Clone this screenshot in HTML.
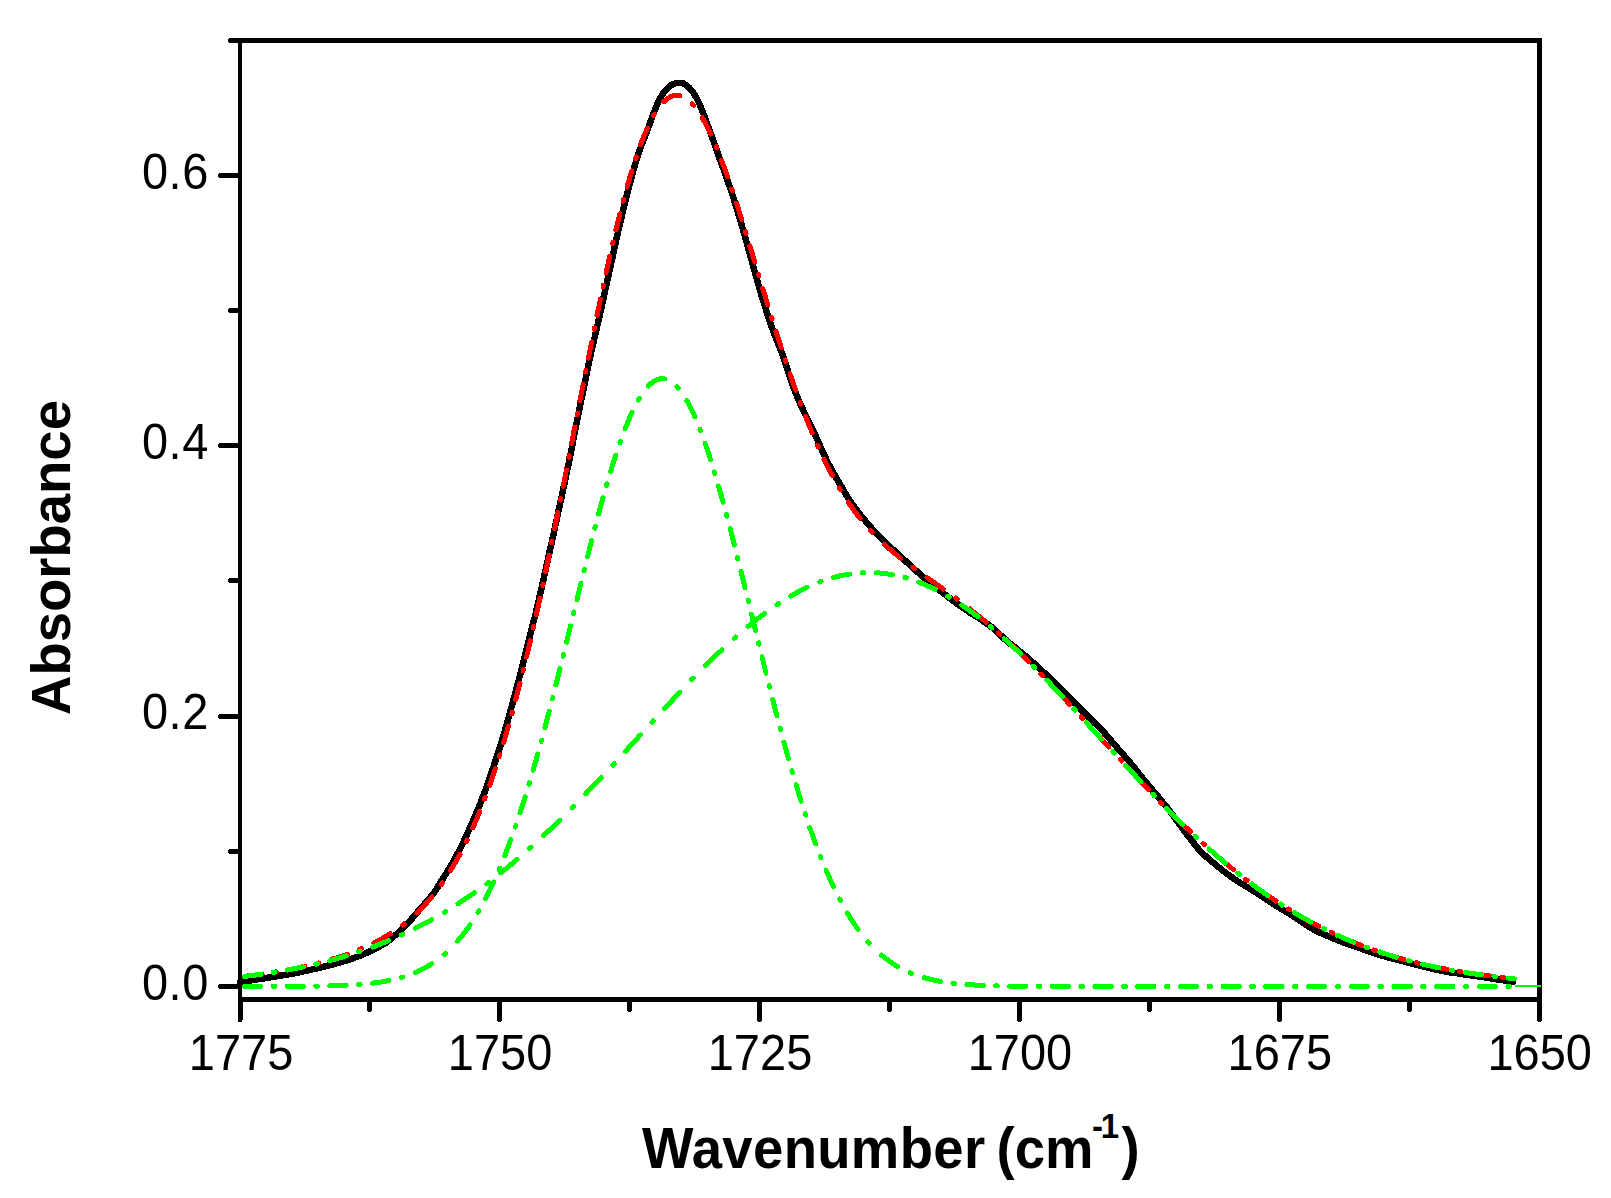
<!DOCTYPE html>
<html><head><meta charset="utf-8"><title>Absorbance vs Wavenumber</title>
<style>
html,body{margin:0;padding:0;background:#fff;}
svg{display:block;}
text{font-family:"Liberation Sans",sans-serif;fill:#000;}
.tl{font-size:47px;}
.ax{font-size:54.5px;font-weight:bold;}
</style></head><body>
<svg width="1611" height="1198" viewBox="0 0 1611 1198">
<rect width="1611" height="1198" fill="#fff"/>
<g shape-rendering="crispEdges" fill="none" stroke-linecap="round" stroke-linejoin="round">
<path d="M240.0 981.9 L241.5 981.7 L243.0 981.5 L244.5 981.2 L246.0 981.0 L247.5 980.8 L249.0 980.6 L250.5 980.4 L252.0 980.2 L253.5 979.9 L255.0 979.7 L256.5 979.5 L258.0 979.2 L259.5 979.0 L261.0 978.8 L262.5 978.5 L264.0 978.3 L265.5 978.0 L267.0 977.8 L268.5 977.6 L270.0 977.3 L271.5 977.1 L273.0 976.8 L274.5 976.6 L276.0 976.3 L277.5 976.1 L279.0 975.9 L280.5 975.6 L282.0 975.4 L283.5 975.1 L285.0 974.9 L286.5 974.6 L288.0 974.4 L289.5 974.1 L291.0 973.8 L292.5 973.6 L294.0 973.3 L295.5 973.0 L297.0 972.7 L298.5 972.4 L300.0 972.1 L301.5 971.8 L303.0 971.5 L304.5 971.2 L306.0 970.9 L307.5 970.5 L309.0 970.2 L310.5 969.9 L312.0 969.5 L313.5 969.2 L315.0 968.8 L316.5 968.5 L318.0 968.1 L319.5 967.7 L321.0 967.4 L322.5 967.0 L324.0 966.6 L325.5 966.2 L327.0 965.8 L328.5 965.5 L330.0 965.1 L331.5 964.7 L333.0 964.3 L334.5 963.9 L336.0 963.5 L337.5 963.1 L339.0 962.7 L340.5 962.3 L342.0 961.8 L343.5 961.4 L345.0 960.9 L346.5 960.5 L348.0 960.0 L349.5 959.5 L351.0 959.0 L352.5 958.5 L354.0 958.0 L355.5 957.4 L357.0 956.9 L358.5 956.3 L360.0 955.7 L361.5 955.1 L363.0 954.5 L364.5 953.8 L366.0 953.2 L367.5 952.5 L369.0 951.8 L370.5 951.1 L372.0 950.4 L373.5 949.6 L375.0 948.9 L376.5 948.1 L378.0 947.3 L379.5 946.5 L381.0 945.6 L382.5 944.8 L384.0 943.9 L385.5 943.0 L387.0 942.0 L388.5 940.9 L390.0 939.7 L391.5 938.5 L393.0 937.2 L394.5 935.9 L396.0 934.6 L397.5 933.3 L399.0 931.9 L400.5 930.5 L402.0 929.1 L403.5 927.6 L405.0 926.1 L406.5 924.5 L408.0 922.9 L409.5 921.4 L411.0 919.7 L412.5 918.0 L414.0 916.3 L415.5 914.5 L417.0 912.7 L418.5 910.9 L420.0 909.2 L421.5 907.4 L423.0 905.7 L424.5 904.1 L426.0 902.4 L427.5 900.6 L429.0 898.9 L430.5 897.1 L432.0 895.2 L433.5 893.3 L435.0 891.3 L436.5 889.0 L438.0 886.6 L439.5 884.0 L441.0 881.6 L442.5 879.3 L444.0 876.9 L445.5 874.6 L447.0 872.2 L448.5 869.7 L450.0 867.2 L451.5 864.6 L453.0 862.0 L454.5 859.3 L456.0 856.6 L457.5 853.8 L459.0 850.9 L460.5 848.0 L462.0 844.9 L463.5 841.8 L465.0 838.6 L466.5 835.3 L468.0 832.0 L469.5 828.7 L471.0 825.3 L472.5 821.9 L474.0 818.5 L475.5 815.0 L477.0 811.4 L478.5 807.8 L480.0 804.1 L481.5 800.3 L483.0 796.4 L484.5 792.5 L486.0 788.5 L487.5 784.4 L489.0 780.0 L490.5 775.6 L492.0 771.2 L493.5 766.8 L495.0 762.3 L496.5 757.8 L498.0 753.2 L499.5 748.5 L501.0 743.7 L502.5 738.7 L504.0 733.7 L505.5 728.5 L507.0 723.3 L508.5 718.0 L510.0 712.6 L511.5 707.1 L513.0 701.7 L514.5 696.1 L516.0 690.5 L517.5 684.8 L519.0 679.1 L520.5 673.2 L522.0 667.3 L523.5 661.3 L525.0 655.3 L526.5 649.2 L528.0 643.2 L529.5 637.4 L531.0 631.6 L532.5 625.9 L534.0 620.0 L535.5 614.0 L537.0 607.8 L538.5 601.4 L540.0 594.8 L541.5 588.2 L543.0 581.5 L544.5 574.7 L546.0 567.9 L547.5 561.1 L549.0 554.3 L550.5 547.6 L552.0 540.9 L553.5 534.1 L555.0 527.2 L556.5 520.3 L558.0 513.3 L559.5 506.4 L561.0 499.4 L562.5 492.5 L564.0 485.6 L565.5 478.5 L567.0 471.4 L568.5 464.2 L570.0 456.9 L571.5 449.3 L573.0 441.5 L574.5 433.7 L576.0 425.8 L577.5 418.2 L579.0 410.9 L580.5 403.7 L582.0 396.5 L583.5 389.3 L585.0 382.0 L586.5 374.6 L588.0 367.2 L589.5 360.0 L591.0 353.2 L592.5 346.7 L594.0 340.2 L595.5 333.8 L597.0 327.3 L598.5 320.6 L600.0 313.9 L601.5 307.2 L603.0 300.4 L604.5 293.4 L606.0 286.5 L607.5 279.7 L609.0 272.9 L610.5 266.1 L612.0 259.4 L613.5 252.5 L615.0 245.6 L616.5 238.8 L618.0 232.1 L619.5 225.7 L621.0 219.3 L622.5 213.0 L624.0 206.9 L625.5 200.9 L627.0 194.9 L628.5 189.0 L630.0 183.1 L631.5 177.4 L633.0 171.8 L634.5 166.4 L636.0 161.4 L637.5 156.6 L639.0 152.2 L640.5 147.9 L642.0 143.9 L643.5 140.0 L645.0 136.3 L646.5 132.5 L648.0 128.5 L649.5 124.3 L651.0 120.2 L652.5 116.2 L654.0 112.4 L655.5 108.6 L657.0 104.9 L658.5 101.4 L660.0 98.4 L661.5 95.9 L663.0 93.6 L664.5 91.5 L666.0 89.7 L667.5 88.2 L669.0 86.9 L670.5 85.7 L672.0 84.8 L673.5 84.1 L675.0 83.5 L676.5 83.1 L678.0 82.9 L679.5 82.8 L681.0 82.9 L682.5 83.2 L684.0 83.8 L685.5 84.8 L687.0 85.9 L688.5 87.1 L690.0 88.6 L691.5 90.3 L693.0 92.3 L694.5 94.6 L696.0 97.1 L697.5 99.8 L699.0 102.9 L700.5 106.4 L702.0 110.0 L703.5 113.8 L705.0 117.8 L706.5 122.0 L708.0 126.2 L709.5 130.2 L711.0 134.3 L712.5 138.3 L714.0 142.4 L715.5 146.6 L717.0 151.1 L718.5 155.5 L720.0 159.7 L721.5 163.7 L723.0 167.8 L724.5 171.9 L726.0 176.1 L727.5 180.4 L729.0 184.7 L730.5 189.1 L732.0 193.6 L733.5 198.2 L735.0 202.9 L736.5 207.7 L738.0 212.6 L739.5 217.6 L741.0 222.7 L742.5 227.8 L744.0 233.0 L745.5 238.3 L747.0 243.8 L748.5 249.2 L750.0 254.7 L751.5 260.1 L753.0 265.5 L754.5 270.9 L756.0 276.2 L757.5 281.5 L759.0 286.8 L760.5 291.9 L762.0 296.8 L763.5 301.7 L765.0 306.5 L766.5 311.3 L768.0 316.0 L769.5 320.6 L771.0 325.0 L772.5 329.2 L774.0 333.4 L775.5 337.2 L777.0 340.8 L778.5 344.4 L780.0 348.1 L781.5 351.8 L783.0 355.8 L784.5 360.4 L786.0 365.0 L787.5 369.7 L789.0 374.4 L790.5 378.9 L792.0 383.3 L793.5 387.3 L795.0 391.2 L796.5 395.0 L798.0 398.6 L799.5 402.1 L801.0 405.4 L802.5 408.7 L804.0 411.9 L805.5 415.1 L807.0 418.2 L808.5 421.3 L810.0 424.3 L811.5 427.3 L813.0 430.4 L814.5 433.6 L816.0 436.8 L817.5 440.2 L819.0 443.6 L820.5 447.0 L822.0 450.3 L823.5 453.5 L825.0 456.7 L826.5 459.8 L828.0 462.8 L829.5 465.7 L831.0 468.5 L832.5 471.2 L834.0 473.9 L835.5 476.5 L837.0 479.1 L838.5 481.6 L840.0 484.2 L841.5 486.8 L843.0 489.4 L844.5 492.0 L846.0 494.5 L847.5 497.0 L849.0 499.3 L850.5 501.6 L852.0 503.7 L853.5 505.8 L855.0 507.9 L856.5 509.9 L858.0 511.8 L859.5 513.7 L861.0 515.6 L862.5 517.4 L864.0 519.2 L865.5 521.0 L867.0 522.8 L868.5 524.5 L870.0 526.3 L871.5 528.0 L873.0 529.8 L874.5 531.4 L876.0 533.1 L877.5 534.7 L879.0 536.2 L880.5 537.8 L882.0 539.2 L883.5 540.7 L885.0 542.1 L886.5 543.6 L888.0 545.0 L889.5 546.3 L891.0 547.7 L892.5 549.1 L894.0 550.5 L895.5 551.8 L897.0 553.2 L898.5 554.6 L900.0 556.0 L901.5 557.4 L903.0 558.8 L904.5 560.1 L906.0 561.5 L907.5 562.9 L909.0 564.2 L910.5 565.6 L912.0 566.9 L913.5 568.3 L915.0 569.7 L916.5 571.0 L918.0 572.4 L919.5 573.7 L921.0 575.0 L922.5 576.3 L924.0 577.6 L925.5 578.8 L927.0 580.1 L928.5 581.3 L930.0 582.5 L931.5 583.8 L933.0 585.0 L934.5 586.2 L936.0 587.4 L937.5 588.6 L939.0 589.8 L940.5 591.0 L942.0 592.1 L943.5 593.3 L945.0 594.5 L946.5 595.7 L948.0 596.8 L949.5 598.0 L951.0 599.2 L952.5 600.3 L954.0 601.4 L955.5 602.6 L957.0 603.7 L958.5 604.7 L960.0 605.8 L961.5 606.8 L963.0 607.9 L964.5 608.9 L966.0 609.9 L967.5 610.9 L969.0 612.0 L970.5 613.0 L972.0 613.9 L973.5 614.8 L975.0 615.7 L976.5 616.7 L978.0 617.6 L979.5 618.5 L981.0 619.5 L982.5 620.6 L984.0 621.6 L985.5 622.6 L987.0 623.7 L988.5 624.8 L990.0 625.9 L991.5 627.0 L993.0 628.2 L994.5 629.5 L996.0 630.8 L997.5 632.2 L999.0 633.7 L1000.5 635.1 L1002.0 636.6 L1003.5 638.0 L1005.0 639.4 L1006.5 640.7 L1008.0 642.0 L1009.5 643.2 L1011.0 644.4 L1012.5 645.5 L1014.0 646.7 L1015.5 647.8 L1017.0 649.0 L1018.5 650.3 L1020.0 651.5 L1021.5 652.7 L1023.0 654.0 L1024.5 655.2 L1026.0 656.5 L1027.5 657.8 L1029.0 659.1 L1030.5 660.4 L1032.0 661.7 L1033.5 663.0 L1035.0 664.4 L1036.5 665.7 L1038.0 667.0 L1039.5 668.4 L1041.0 669.8 L1042.5 671.2 L1044.0 672.6 L1045.5 674.0 L1047.0 675.5 L1048.5 677.0 L1050.0 678.4 L1051.5 679.9 L1053.0 681.4 L1054.5 682.9 L1056.0 684.4 L1057.5 685.9 L1059.0 687.4 L1060.5 689.0 L1062.0 690.5 L1063.5 692.0 L1065.0 693.5 L1066.5 695.0 L1068.0 696.6 L1069.5 698.1 L1071.0 699.6 L1072.5 701.1 L1074.0 702.6 L1075.5 704.1 L1077.0 705.5 L1078.5 707.0 L1080.0 708.5 L1081.5 710.0 L1083.0 711.5 L1084.5 713.0 L1086.0 714.5 L1087.5 716.0 L1089.0 717.6 L1090.5 719.1 L1092.0 720.6 L1093.5 722.0 L1095.0 723.4 L1096.5 724.8 L1098.0 726.2 L1099.5 727.8 L1101.0 729.3 L1102.5 730.8 L1104.0 732.4 L1105.5 734.1 L1107.0 735.8 L1108.5 737.5 L1110.0 739.3 L1111.5 741.0 L1113.0 742.8 L1114.5 744.6 L1116.0 746.3 L1117.5 748.1 L1119.0 749.8 L1120.5 751.5 L1122.0 753.2 L1123.5 754.9 L1125.0 756.6 L1126.5 758.4 L1128.0 760.1 L1129.5 761.8 L1131.0 763.6 L1132.5 765.4 L1134.0 767.2 L1135.5 769.1 L1137.0 771.0 L1138.5 773.0 L1140.0 774.9 L1141.5 776.8 L1143.0 778.7 L1144.5 780.5 L1146.0 782.3 L1147.5 784.1 L1149.0 785.9 L1150.5 787.6 L1152.0 789.4 L1153.5 791.2 L1155.0 792.9 L1156.5 794.7 L1158.0 796.5 L1159.5 798.3 L1161.0 800.2 L1162.5 802.0 L1164.0 803.8 L1165.5 805.7 L1167.0 807.5 L1168.5 809.4 L1170.0 811.4 L1171.5 813.4 L1173.0 815.4 L1174.5 817.5 L1176.0 819.5 L1177.5 821.5 L1179.0 823.6 L1180.5 825.6 L1182.0 827.7 L1183.5 829.7 L1185.0 831.8 L1186.5 833.8 L1188.0 835.8 L1189.5 837.7 L1191.0 839.6 L1192.5 841.6 L1194.0 843.5 L1195.5 845.5 L1197.0 847.3 L1198.5 849.1 L1200.0 850.9 L1201.5 852.4 L1203.0 853.8 L1204.5 855.2 L1206.0 856.5 L1207.5 857.8 L1209.0 859.1 L1210.5 860.4 L1212.0 861.7 L1213.5 862.9 L1215.0 864.2 L1216.5 865.5 L1218.0 866.7 L1219.5 867.9 L1221.0 869.1 L1222.5 870.3 L1224.0 871.5 L1225.5 872.6 L1227.0 873.8 L1228.5 874.9 L1230.0 876.0 L1231.5 877.0 L1233.0 878.1 L1234.5 879.1 L1236.0 880.1 L1237.5 881.1 L1239.0 882.1 L1240.5 883.1 L1242.0 884.0 L1243.5 884.9 L1245.0 885.8 L1246.5 886.7 L1248.0 887.6 L1249.5 888.5 L1251.0 889.4 L1252.5 890.3 L1254.0 891.3 L1255.5 892.3 L1257.0 893.2 L1258.5 894.2 L1260.0 895.1 L1261.5 896.1 L1263.0 897.1 L1264.5 898.1 L1266.0 899.1 L1267.5 900.1 L1269.0 901.1 L1270.5 902.1 L1272.0 903.1 L1273.5 904.1 L1275.0 905.0 L1276.5 906.0 L1278.0 906.9 L1279.5 907.8 L1281.0 908.7 L1282.5 909.6 L1284.0 910.5 L1285.5 911.4 L1287.0 912.2 L1288.5 913.1 L1290.0 914.1 L1291.5 915.1 L1293.0 916.1 L1294.5 917.1 L1296.0 918.1 L1297.5 919.2 L1299.0 920.2 L1300.5 921.2 L1302.0 922.2 L1303.5 923.1 L1305.0 924.1 L1306.5 925.1 L1308.0 926.1 L1309.5 927.0 L1311.0 928.0 L1312.5 928.9 L1314.0 929.7 L1315.5 930.5 L1317.0 931.3 L1318.5 932.0 L1320.0 932.7 L1321.5 933.4 L1323.0 934.0 L1324.5 934.7 L1326.0 935.3 L1327.5 936.0 L1329.0 936.6 L1330.5 937.2 L1332.0 937.9 L1333.5 938.5 L1335.0 939.1 L1336.5 939.7 L1338.0 940.3 L1339.5 940.9 L1341.0 941.5 L1342.5 942.1 L1344.0 942.7 L1345.5 943.3 L1347.0 943.8 L1348.5 944.3 L1350.0 944.8 L1351.5 945.3 L1353.0 945.8 L1354.5 946.4 L1356.0 946.9 L1357.5 947.4 L1359.0 947.9 L1360.5 948.4 L1362.0 949.0 L1363.5 949.5 L1365.0 950.0 L1366.5 950.6 L1368.0 951.1 L1369.5 951.6 L1371.0 952.1 L1372.5 952.6 L1374.0 953.1 L1375.5 953.6 L1377.0 954.1 L1378.5 954.6 L1380.0 955.0 L1381.5 955.5 L1383.0 956.0 L1384.5 956.4 L1386.0 956.8 L1387.5 957.3 L1389.0 957.7 L1390.5 958.1 L1392.0 958.5 L1393.5 958.9 L1395.0 959.2 L1396.5 959.6 L1398.0 960.0 L1399.5 960.3 L1401.0 960.7 L1402.5 961.1 L1404.0 961.5 L1405.5 961.9 L1407.0 962.3 L1408.5 962.7 L1410.0 963.1 L1411.5 963.5 L1413.0 963.9 L1414.5 964.3 L1416.0 964.7 L1417.5 965.0 L1419.0 965.4 L1420.5 965.8 L1422.0 966.1 L1423.5 966.5 L1425.0 966.9 L1426.5 967.3 L1428.0 967.7 L1429.5 968.1 L1431.0 968.4 L1432.5 968.8 L1434.0 969.1 L1435.5 969.4 L1437.0 969.7 L1438.5 970.0 L1440.0 970.4 L1441.5 970.7 L1443.0 971.0 L1444.5 971.2 L1446.0 971.5 L1447.5 971.8 L1449.0 972.1 L1450.5 972.4 L1452.0 972.6 L1453.5 972.8 L1455.0 973.0 L1456.5 973.2 L1458.0 973.4 L1459.5 973.6 L1461.0 973.8 L1462.5 974.1 L1464.0 974.3 L1465.5 974.5 L1467.0 974.8 L1468.5 975.0 L1470.0 975.2 L1471.5 975.5 L1473.0 975.7 L1474.5 975.9 L1476.0 976.1 L1477.5 976.3 L1479.0 976.5 L1480.5 976.8 L1482.0 977.0 L1483.5 977.2 L1485.0 977.4 L1486.5 977.7 L1488.0 977.9 L1489.5 978.2 L1491.0 978.4 L1492.5 978.6 L1494.0 978.9 L1495.5 979.1 L1497.0 979.3 L1498.5 979.6 L1500.0 979.8 L1501.5 980.0 L1503.0 980.2 L1504.5 980.5 L1506.0 980.7 L1507.5 980.9 L1509.0 981.0 L1510.5 981.2 L1512.0 981.4 L1513.2 981.5" stroke="#000" stroke-width="6.5"/>
<path d="M245.8 976.3 L246.0 976.2 L248.5 975.9 L251.0 975.6 L253.5 975.3 L256.0 974.9 L258.5 974.6 L261.0 974.3 L262.1 974.1 M274.6 972.2 L276.1 971.9 M288.5 969.7 L288.8 969.7 L291.2 969.2 L293.8 968.7 L296.2 968.2 L298.8 967.7 L301.2 967.1 L303.8 966.6 L304.8 966.3 M317.2 963.4 L318.8 963.0 M331.2 959.5 L331.2 959.5 L333.8 958.7 L336.2 958.0 L338.8 957.2 L341.2 956.3 L343.8 955.5 L346.2 954.6 L347.5 954.2 M359.9 949.3 L361.4 948.7 M373.9 942.9 L374.0 942.9 L376.5 941.6 L379.0 940.3 L381.5 938.9 L384.0 937.5 L386.5 936.0 L389.0 934.4 L390.2 933.7 M402.7 925.0 L404.2 923.8 M416.6 913.1 L416.8 913.0 L419.2 910.5 L421.8 908.0 L424.2 905.4 L426.8 902.7 L429.2 899.8 L431.7 896.9 M441.3 884.4 L442.4 882.9 M450.6 870.5 L450.8 870.2 L453.2 866.1 L455.8 861.8 L458.2 857.3 L460.0 854.2 M466.3 841.7 L467.1 840.2 M472.8 827.8 L473.0 827.4 L475.5 821.7 L478.0 815.8 L479.8 811.5 M484.6 799.0 L485.2 797.5 M489.8 785.1 L490.0 784.4 L492.5 777.2 L495.0 769.8 L495.3 768.8 M499.4 756.3 L499.8 754.8 M503.7 742.4 L503.8 742.2 L506.2 733.7 L508.5 726.1 M512.0 713.6 L512.4 712.1 M515.7 699.7 L515.8 699.6 L518.2 690.1 L520.0 683.4 M523.1 670.9 L523.5 669.4 M526.5 657.0 L526.8 656.1 L529.2 645.6 L530.4 640.7 M533.3 628.2 L533.6 626.7 M536.4 614.3 L536.5 614.1 L539.0 602.8 L540.1 598.0 M542.8 585.5 L543.1 584.0 M545.7 571.6 L545.8 571.5 L548.2 559.7 L549.2 555.3 M551.7 542.8 L552.0 541.3 M554.6 528.9 L554.8 528.1 L557.2 515.8 L557.9 512.6 M560.4 500.1 L560.7 498.6 M563.2 486.2 L563.2 485.7 L565.8 473.1 L566.4 469.9 M568.8 457.4 L569.1 455.9 M571.6 443.5 L571.8 442.5 L574.2 429.7 L574.7 427.2 M577.2 414.7 L577.5 413.2 M579.9 400.8 L580.0 400.4 L582.5 387.7 L583.1 384.5 M585.6 372.0 L585.9 370.5 M588.4 358.1 L588.5 357.4 L591.0 344.9 L591.6 341.8 M594.2 329.3 L594.5 327.8 M597.0 315.4 L597.2 314.3 L599.8 302.3 L600.4 299.1 M603.1 286.6 L603.4 285.1 M606.1 272.7 L606.2 272.0 L608.8 260.8 L609.7 256.4 M612.6 243.9 L613.0 242.4 M615.9 230.0 L616.0 229.6 L618.5 219.4 L619.9 213.7 M623.2 201.2 L623.6 199.7 M627.0 187.3 L627.0 187.2 L629.5 178.5 L631.7 171.0 M635.7 158.5 L636.2 157.0 M640.6 144.6 L640.8 144.2 L643.2 137.7 L645.8 131.6 L647.2 128.3 M653.5 115.8 L654.3 114.3 M663.5 101.9 L663.8 101.7 L666.2 99.5 L668.8 97.7 L671.2 96.4 L673.8 95.6 L676.2 95.3 L678.8 95.4 L679.8 95.6 M692.2 103.7 L693.6 105.2 M702.2 117.7 L702.2 117.8 L704.8 122.2 L707.2 127.0 L709.8 132.1 L710.7 134.0 M716.1 146.4 L716.7 147.9 M721.6 160.4 L721.8 160.7 L724.2 167.4 L726.8 174.3 L727.6 176.7 M731.9 189.1 L732.4 190.6 M736.5 203.1 L736.5 203.2 L739.0 210.9 L741.5 218.8 L741.7 219.4 M745.6 231.8 L746.0 233.3 M749.9 245.8 L750.0 246.3 L752.5 254.5 L754.8 262.1 M758.6 274.5 L759.0 276.0 M762.8 288.5 L763.0 289.1 L765.5 297.3 L767.8 304.8 M771.6 317.2 L772.1 318.7 M776.0 331.2 L776.0 331.2 L778.5 339.1 L781.0 346.9 L781.2 347.5 M785.3 359.9 L785.8 361.4 M790.0 373.9 L790.0 374.0 L792.5 381.2 L795.0 388.3 L795.7 390.2 M800.2 402.6 L800.8 404.1 M805.6 416.6 L805.8 417.1 L808.2 423.4 L810.8 429.5 L812.2 432.9 M817.6 445.3 L818.2 446.8 M824.0 459.3 L824.2 459.8 L826.8 464.8 L829.2 469.8 L831.8 474.5 L832.3 475.6 M839.3 488.0 L840.2 489.5 M848.1 502.0 L848.2 502.2 L850.8 505.9 L853.2 509.4 L855.8 512.8 L858.2 516.1 L860.0 518.3 M870.6 530.7 L872.0 532.2 M884.3 544.4 L884.5 544.6 L887.0 546.8 L889.5 549.0 L892.0 551.2 L894.5 553.3 L897.0 555.3 L899.5 557.3 L900.6 558.2 M913.0 567.5 L914.5 568.6 M927.0 577.5 L927.0 577.5 L929.5 579.3 L932.0 581.0 L934.5 582.8 L937.0 584.6 L939.5 586.4 L942.0 588.1 L943.3 589.1 M955.7 598.1 L957.2 599.3 M969.7 608.8 L969.8 608.9 L972.2 610.9 L974.8 612.9 L977.2 614.9 L979.8 616.9 L982.2 619.0 L984.8 621.1 L986.0 622.2 M998.4 633.0 L999.9 634.3 M1012.4 645.8 L1012.5 645.9 L1015.0 648.3 L1017.5 650.7 L1020.0 653.1 L1022.5 655.5 L1025.0 658.0 L1027.5 660.4 L1028.7 661.6 M1041.0 674.1 L1042.5 675.6 M1054.4 688.0 L1054.5 688.1 L1057.0 690.8 L1059.5 693.4 L1062.0 696.1 L1064.5 698.8 L1067.0 701.5 L1069.5 704.2 L1069.6 704.3 M1081.1 716.8 L1082.5 718.3 M1093.9 730.7 L1094.0 730.9 L1096.5 733.6 L1099.0 736.3 L1101.5 739.1 L1104.0 741.8 L1106.5 744.6 L1108.7 747.0 M1120.2 759.5 L1121.5 761.0 M1133.1 773.4 L1133.2 773.6 L1135.8 776.3 L1138.2 778.9 L1140.8 781.6 L1143.2 784.2 L1145.8 786.9 L1148.2 789.5 L1148.4 789.7 M1160.5 802.2 L1161.9 803.7 M1174.3 816.1 L1174.5 816.3 L1177.0 818.8 L1179.5 821.2 L1182.0 823.7 L1184.5 826.1 L1187.0 828.5 L1189.5 830.9 L1190.6 831.9 M1203.0 843.5 L1204.5 844.8 M1217.0 855.9 L1217.0 855.9 L1219.5 858.0 L1222.0 860.2 L1224.5 862.3 L1227.0 864.4 L1229.5 866.4 L1232.0 868.5 L1233.3 869.5 M1245.7 879.4 L1247.2 880.5 M1259.7 889.8 L1259.8 889.8 L1262.2 891.6 L1264.8 893.4 L1267.2 895.1 L1269.8 896.8 L1272.2 898.5 L1274.8 900.2 L1276.0 901.0 M1288.4 909.0 L1289.9 909.9 M1302.4 917.3 L1302.5 917.4 L1305.0 918.8 L1307.5 920.2 L1310.0 921.6 L1312.5 922.9 L1315.0 924.2 L1317.5 925.6 L1318.7 926.2 M1331.1 932.4 L1332.6 933.1 M1345.1 938.7 L1345.2 938.8 L1347.8 939.8 L1350.2 940.9 L1352.8 941.9 L1355.2 943.0 L1357.8 944.0 L1360.2 944.9 L1361.4 945.4 M1373.8 950.0 L1375.3 950.5 M1387.8 954.6 L1388.0 954.7 L1390.5 955.5 L1393.0 956.2 L1395.5 957.0 L1398.0 957.7 L1400.5 958.4 L1403.0 959.1 L1404.1 959.4 M1416.5 962.7 L1418.0 963.1 M1430.5 966.0 L1430.5 966.0 L1433.0 966.5 L1435.5 967.0 L1438.0 967.5 L1440.5 968.1 L1443.0 968.6 L1445.5 969.0 L1446.8 969.3 M1459.2 971.5 L1460.7 971.8 M1473.2 973.7 L1473.2 973.7 L1475.8 974.1 L1478.2 974.4 L1480.8 974.8 L1483.2 975.1 L1485.8 975.4 L1488.2 975.8 L1489.5 975.9 M1501.9 977.4 L1503.4 977.5" stroke="#f00" stroke-width="5"/>
<path d="M244.5 986.5 L244.8 986.5 L247.2 986.5 L249.8 986.5 L252.2 986.5 L254.8 986.5 L257.2 986.5 L259.8 986.5 L260.8 986.5 M273.2 986.4 L274.8 986.4 M287.2 986.4 L287.2 986.4 L289.8 986.4 L292.2 986.4 L294.8 986.4 L297.2 986.3 L299.8 986.3 L302.2 986.3 L303.5 986.3 M315.9 986.1 L317.4 986.1 M329.9 985.8 L330.0 985.8 L332.5 985.8 L335.0 985.7 L337.5 985.6 L340.0 985.5 L342.5 985.4 L345.0 985.3 L346.2 985.2 M358.6 984.5 L360.1 984.4 M372.6 983.1 L372.8 983.1 L375.2 982.8 L377.8 982.4 L380.2 982.1 L382.8 981.7 L385.2 981.2 L387.8 980.8 L388.9 980.5 M401.4 977.5 L402.9 977.0 M415.3 972.5 L415.5 972.4 L418.0 971.3 L420.5 970.2 L423.0 968.9 L425.5 967.6 L428.0 966.1 L430.5 964.6 L431.6 963.9 M444.1 954.6 L445.6 953.3 M457.5 941.1 L457.8 940.8 L460.2 937.9 L462.8 934.8 L465.2 931.5 L467.8 928.1 L470.0 924.8 M477.9 912.4 L478.8 910.9 M485.6 898.4 L485.8 898.2 L488.2 893.2 L490.8 888.1 L493.2 882.8 L493.6 882.1 M499.1 869.7 L499.7 868.2 M504.8 855.7 L505.0 855.1 L507.5 848.6 L510.0 841.9 L510.9 839.4 M515.3 827.0 L515.8 825.5 M520.0 813.0 L520.0 813.0 L522.5 805.2 L525.0 797.3 L525.2 796.7 M529.0 784.3 L529.4 782.8 M533.1 770.3 L533.2 769.8 L535.8 761.0 L537.7 754.0 M541.2 741.6 L541.6 740.1 M544.9 727.6 L545.0 727.3 L547.5 717.8 L549.2 711.3 M552.4 698.9 L552.8 697.4 M555.9 684.9 L556.0 684.7 L558.5 674.7 L560.0 668.6 M563.1 656.2 L563.5 654.7 M566.5 642.2 L566.8 641.3 L569.2 631.1 L570.5 625.9 M573.5 613.5 L573.9 612.0 M577.0 599.5 L577.0 599.3 L579.5 589.1 L581.0 583.2 M584.0 570.8 L584.4 569.3 M587.5 556.8 L587.8 555.9 L590.2 546.0 L591.7 540.5 M594.9 528.1 L595.3 526.6 M598.6 514.1 L598.8 513.4 L601.2 504.2 L603.0 497.8 M606.5 485.4 L607.0 483.9 M610.7 471.4 L610.8 471.2 L613.2 463.1 L615.8 455.3 L615.8 455.1 M620.0 442.7 L620.5 441.2 M625.1 428.7 L625.2 428.4 L627.8 422.2 L630.2 416.4 L632.0 412.4 M638.4 400.0 L639.3 398.5 M648.4 386.0 L648.5 385.9 L651.0 383.5 L653.5 381.6 L656.0 380.2 L658.5 379.2 L661.0 378.7 L663.5 378.7 L664.7 378.8 M677.1 386.6 L678.4 388.1 M686.8 400.6 L687.0 400.8 L689.5 405.5 L692.0 410.5 L694.5 416.0 L694.9 416.9 M700.0 429.3 L700.6 430.8 M705.1 443.3 L705.2 443.7 L707.8 451.0 L710.2 458.6 L710.5 459.6 M714.4 472.0 L714.9 473.5 M718.5 486.0 L718.8 486.7 L721.2 495.5 L723.1 502.3 M726.5 514.7 L726.9 516.2 M730.2 528.7 L730.2 528.9 L732.8 538.5 L734.4 545.0 M737.5 557.4 L737.9 558.9 M741.0 571.4 L741.2 572.3 L743.8 582.4 L745.0 587.7 M748.1 600.1 L748.5 601.6 M751.5 614.1 L751.8 615.1 L754.2 625.3 L755.5 630.4 M758.5 642.8 L758.9 644.3 M762.0 656.8 L762.0 656.9 L764.5 667.0 L766.0 673.1 M769.1 685.5 L769.5 687.0 M772.7 699.5 L772.8 699.8 L775.2 709.5 L776.9 715.8 M780.2 728.2 L780.6 729.7 M783.9 742.2 L784.0 742.5 L786.5 751.5 L788.4 758.5 M792.0 770.9 L792.4 772.4 M796.1 784.9 L796.2 785.3 L798.8 793.6 L801.1 801.2 M805.1 813.6 L805.6 815.1 M809.8 827.6 L810.0 828.1 L812.5 835.2 L815.0 842.1 L815.6 843.9 M820.4 856.3 L821.0 857.8 M826.1 870.3 L826.2 870.6 L828.8 876.4 L831.2 881.9 L833.4 886.6 M839.6 899.0 L840.4 900.5 M847.4 913.0 L847.5 913.2 L850.0 917.3 L852.5 921.2 L855.0 925.0 L857.5 928.5 L858.0 929.3 M867.9 941.7 L869.3 943.2 M881.5 955.1 L881.5 955.1 L884.0 957.2 L886.5 959.1 L889.0 961.0 L891.5 962.7 L894.0 964.3 L896.5 965.9 L897.8 966.6 M910.2 972.8 L911.7 973.4 M924.2 977.7 L924.2 977.7 L926.8 978.4 L929.2 979.0 L931.8 979.6 L934.2 980.2 L936.8 980.7 L939.2 981.2 L940.5 981.4 M952.9 983.2 L954.4 983.4 M966.9 984.5 L967.0 984.5 L969.5 984.7 L972.0 984.9 L974.5 985.0 L977.0 985.2 L979.5 985.3 L982.0 985.4 L983.2 985.4 M995.6 985.9 L997.1 985.9 M1009.6 986.1 L1009.8 986.1 L1012.2 986.2 L1014.8 986.2 L1017.2 986.2 L1019.8 986.3 L1022.2 986.3 L1024.8 986.3 L1025.9 986.3 M1038.3 986.4 L1039.8 986.4 M1052.3 986.4 L1052.5 986.4 L1055.0 986.5 L1057.5 986.5 L1060.0 986.5 L1062.5 986.5 L1065.0 986.5 L1067.5 986.5 L1068.6 986.5 M1081.0 986.5 L1082.5 986.5 M1095.0 986.5 L1095.0 986.5 L1097.5 986.5 L1100.0 986.5 L1102.5 986.5 L1105.0 986.5 L1107.5 986.5 L1110.0 986.5 L1111.3 986.5 M1123.7 986.5 L1125.2 986.5 M1137.7 986.5 L1137.8 986.5 L1140.2 986.5 L1142.8 986.5 L1145.2 986.5 L1147.8 986.5 L1150.2 986.5 L1152.8 986.5 L1154.0 986.5 M1166.4 986.5 L1167.9 986.5 M1180.4 986.5 L1180.5 986.5 L1183.0 986.5 L1185.5 986.5 L1188.0 986.5 L1190.5 986.5 L1193.0 986.5 L1195.5 986.5 L1196.7 986.5 M1209.1 986.5 L1210.6 986.5 M1223.1 986.5 L1223.2 986.5 L1225.8 986.5 L1228.2 986.5 L1230.8 986.5 L1233.2 986.5 L1235.8 986.5 L1238.2 986.5 L1239.4 986.5 M1251.8 986.5 L1253.3 986.5 M1265.8 986.5 L1266.0 986.5 L1268.5 986.5 L1271.0 986.5 L1273.5 986.5 L1276.0 986.5 L1278.5 986.5 L1281.0 986.5 L1282.1 986.5 M1294.5 986.5 L1296.0 986.5 M1308.5 986.5 L1308.5 986.5 L1311.0 986.5 L1313.5 986.5 L1316.0 986.5 L1318.5 986.5 L1321.0 986.5 L1323.5 986.5 L1324.8 986.5 M1337.2 986.5 L1338.7 986.5 M1351.2 986.5 L1351.2 986.5 L1353.8 986.5 L1356.2 986.5 L1358.8 986.5 L1361.2 986.5 L1363.8 986.5 L1366.2 986.5 L1367.5 986.5 M1379.9 986.5 L1381.4 986.5 M1393.9 986.5 L1394.0 986.5 L1396.5 986.5 L1399.0 986.5 L1401.5 986.5 L1404.0 986.5 L1406.5 986.5 L1409.0 986.5 L1410.2 986.5 M1422.6 986.5 L1424.1 986.5 M1436.6 986.5 L1436.8 986.5 L1439.2 986.5 L1441.8 986.5 L1444.2 986.5 L1446.8 986.5 L1449.2 986.5 L1451.8 986.5 L1452.9 986.5 M1465.3 986.5 L1466.8 986.5 M1479.3 986.5 L1479.5 986.5 L1482.0 986.5 L1484.5 986.5 L1487.0 986.5 L1489.5 986.5 L1492.0 986.5 L1494.5 986.5 L1495.6 986.5 M1508.0 986.5 L1509.5 986.5" stroke="#0f0" stroke-width="5"/>
<path d="M244.5 976.4 L244.8 976.4 L247.2 976.1 L249.8 975.8 L252.2 975.5 L254.8 975.1 L257.2 974.8 L259.8 974.5 L260.8 974.3 M273.2 972.4 L274.8 972.2 M287.2 970.1 L287.2 970.0 L289.8 969.6 L292.2 969.1 L294.8 968.6 L297.2 968.1 L299.8 967.6 L302.2 967.1 L303.5 966.8 M315.9 964.1 L317.4 963.7 M329.9 960.6 L330.0 960.5 L332.5 959.9 L335.0 959.2 L337.5 958.5 L340.0 957.7 L342.5 957.0 L345.0 956.3 L346.2 955.9 M358.6 951.9 L360.1 951.4 M372.6 947.0 L372.8 946.9 L375.2 946.0 L377.8 945.0 L380.2 944.0 L382.8 943.0 L385.2 942.0 L387.8 941.0 L388.9 940.5 M401.4 935.0 L402.9 934.3 M415.3 928.3 L415.5 928.2 L418.0 926.9 L420.5 925.6 L423.0 924.3 L425.5 923.0 L428.0 921.6 L430.5 920.3 L431.6 919.7 M444.1 912.5 L445.6 911.6 M458.0 903.8 L458.2 903.6 L460.8 902.0 L463.2 900.3 L465.8 898.6 L468.2 896.9 L470.8 895.2 L473.2 893.5 L474.3 892.7 M486.8 883.7 L488.2 882.5 M500.7 872.9 L500.8 872.8 L503.2 870.8 L505.8 868.8 L508.2 866.8 L510.8 864.7 L513.2 862.6 L515.8 860.5 L517.0 859.4 M529.5 848.6 L531.0 847.2 M543.4 835.8 L543.5 835.7 L546.0 833.4 L548.5 831.0 L551.0 828.6 L553.5 826.2 L556.0 823.8 L558.5 821.4 L559.7 820.2 M572.1 807.8 L573.6 806.3 M585.7 793.9 L585.8 793.8 L588.2 791.2 L590.8 788.6 L593.2 786.0 L595.8 783.3 L598.2 780.7 L600.8 778.0 L601.2 777.6 M612.8 765.1 L614.2 763.6 M625.6 751.2 L625.8 751.0 L628.2 748.3 L630.8 745.5 L633.2 742.8 L635.8 740.1 L638.2 737.3 L640.5 734.9 M651.9 722.4 L653.2 720.9 M664.7 708.5 L664.8 708.4 L667.2 705.7 L669.8 703.0 L672.2 700.3 L674.8 697.6 L677.2 695.0 L679.8 692.3 L679.9 692.2 M691.7 679.7 L693.2 678.2 M705.4 665.8 L705.5 665.7 L708.0 663.2 L710.5 660.7 L713.0 658.3 L715.5 655.9 L718.0 653.4 L720.5 651.1 L721.7 649.9 M734.2 638.4 L735.7 637.1 M748.1 626.4 L748.2 626.3 L750.8 624.2 L753.2 622.2 L755.8 620.2 L758.2 618.3 L760.8 616.3 L763.2 614.4 L764.4 613.6 M776.9 604.7 L778.4 603.8 M790.8 596.0 L791.0 595.9 L793.5 594.5 L796.0 593.1 L798.5 591.7 L801.0 590.4 L803.5 589.2 L806.0 587.9 L807.1 587.4 M819.6 582.1 L821.1 581.5 M833.5 577.5 L833.8 577.4 L836.2 576.8 L838.8 576.2 L841.2 575.6 L843.8 575.1 L846.2 574.6 L848.8 574.2 L849.8 574.0 M862.3 572.7 L863.8 572.7 M876.2 572.8 L876.2 572.8 L878.8 572.9 L881.2 573.1 L883.8 573.4 L886.2 573.7 L888.8 574.1 L891.2 574.5 L892.5 574.7 M905.0 577.6 L906.5 578.0 M918.9 582.2 L919.0 582.3 L921.5 583.3 L924.0 584.3 L926.5 585.4 L929.0 586.5 L931.5 587.6 L934.0 588.8 L935.2 589.5 M947.7 596.2 L949.2 597.1 M961.6 605.0 L961.8 605.1 L964.2 606.8 L966.8 608.5 L969.2 610.3 L971.8 612.1 L974.2 614.0 L976.8 615.8 L977.9 616.7 M990.4 626.7 L991.9 628.0 M1004.3 638.8 L1004.5 638.9 L1007.0 641.2 L1009.5 643.5 L1012.0 645.8 L1014.5 648.1 L1017.0 650.4 L1019.5 652.8 L1020.6 653.9 M1033.1 666.1 L1034.6 667.6 M1046.8 680.1 L1047.0 680.3 L1049.5 682.9 L1052.0 685.6 L1054.5 688.2 L1057.0 690.8 L1059.5 693.5 L1062.0 696.1 L1062.2 696.4 M1073.8 708.8 L1075.2 710.3 M1086.6 722.8 L1086.8 722.9 L1089.2 725.7 L1091.8 728.4 L1094.2 731.1 L1096.8 733.9 L1099.2 736.6 L1101.5 739.1 M1112.9 751.5 L1114.3 753.0 M1125.7 765.5 L1125.8 765.5 L1128.2 768.2 L1130.8 770.9 L1133.2 773.6 L1135.8 776.3 L1138.2 778.9 L1140.8 781.6 L1140.9 781.8 M1152.8 794.2 L1154.2 795.7 M1166.4 808.2 L1166.5 808.3 L1169.0 810.8 L1171.5 813.3 L1174.0 815.8 L1176.5 818.3 L1179.0 820.7 L1181.5 823.2 L1182.7 824.3 M1195.1 836.2 L1196.6 837.6 M1209.1 848.9 L1209.2 849.1 L1211.8 851.3 L1214.2 853.5 L1216.8 855.6 L1219.2 857.8 L1221.8 859.9 L1224.2 862.1 L1225.4 863.0 M1237.8 873.2 L1239.3 874.4 M1251.8 883.9 L1252.0 884.1 L1254.5 886.0 L1257.0 887.8 L1259.5 889.6 L1262.0 891.4 L1264.5 893.2 L1267.0 894.9 L1268.1 895.7 M1280.5 904.0 L1282.0 905.0 M1294.5 912.7 L1294.5 912.7 L1297.0 914.2 L1299.5 915.6 L1302.0 917.1 L1304.5 918.5 L1307.0 919.9 L1309.5 921.3 L1310.8 922.0 M1323.2 928.5 L1324.7 929.2 M1337.2 935.2 L1337.2 935.2 L1339.8 936.3 L1342.2 937.5 L1344.8 938.6 L1347.2 939.6 L1349.8 940.7 L1352.2 941.7 L1353.5 942.2 M1365.9 947.1 L1367.4 947.7 M1379.9 952.0 L1380.0 952.1 L1382.5 952.9 L1385.0 953.7 L1387.5 954.5 L1390.0 955.3 L1392.5 956.1 L1395.0 956.8 L1396.2 957.2 M1408.6 960.7 L1410.1 961.0 M1422.6 964.1 L1422.8 964.2 L1425.2 964.8 L1427.8 965.3 L1430.2 965.9 L1432.8 966.4 L1435.2 967.0 L1437.8 967.5 L1438.9 967.7 M1451.3 970.1 L1452.8 970.4 M1465.3 972.5 L1465.5 972.5 L1468.0 972.9 L1470.5 973.3 L1473.0 973.7 L1475.5 974.0 L1478.0 974.4 L1480.5 974.7 L1481.6 974.9 M1494.0 976.5 L1495.5 976.7 M1508.0 978.0 L1508.0 978.0 L1510.5 978.3 L1513.0 978.5 L1514.5 978.7" stroke="#0f0" stroke-width="5"/>
</g>
<g shape-rendering="crispEdges">
<rect x="238" y="38" width="4" height="982" fill="#000"/>
<rect x="1537" y="38" width="5" height="982" fill="#000"/>
<rect x="238" y="38" width="1304" height="5" fill="#000"/>
<rect x="238" y="997" width="1304" height="5" fill="#000"/>
<rect x="1515" y="985" width="26" height="2" fill="#0f0"/>
</g>
<g stroke="#000" stroke-width="5" stroke-linecap="round" shape-rendering="crispEdges">
<line x1="220.5" y1="986.5" x2="239" y2="986.5"/>
<line x1="230.5" y1="851.5" x2="239" y2="851.5"/>
<line x1="220.5" y1="716.5" x2="239" y2="716.5"/>
<line x1="230.5" y1="580.5" x2="239" y2="580.5"/>
<line x1="220.5" y1="445.5" x2="239" y2="445.5"/>
<line x1="230.5" y1="310.5" x2="239" y2="310.5"/>
<line x1="220.5" y1="175.5" x2="239" y2="175.5"/>
<line x1="230.5" y1="40.5" x2="239" y2="40.5"/>
<line x1="240" y1="1000" x2="240" y2="1019.5"/>
<line x1="369.5" y1="1000" x2="369.5" y2="1009.5"/>
<line x1="499.5" y1="1000" x2="499.5" y2="1019.5"/>
<line x1="629.5" y1="1000" x2="629.5" y2="1009.5"/>
<line x1="759.5" y1="1000" x2="759.5" y2="1019.5"/>
<line x1="889.5" y1="1000" x2="889.5" y2="1009.5"/>
<line x1="1019.5" y1="1000" x2="1019.5" y2="1019.5"/>
<line x1="1149.5" y1="1000" x2="1149.5" y2="1009.5"/>
<line x1="1279.5" y1="1000" x2="1279.5" y2="1019.5"/>
<line x1="1409.5" y1="1000" x2="1409.5" y2="1009.5"/>
<line x1="1539.5" y1="1000" x2="1539.5" y2="1019.5"/>
</g>
<text class="tl" transform="translate(208.8 999.7) scale(1 1.055)" text-anchor="end" letter-spacing="0.5">0.0</text>
<text class="tl" transform="translate(208.8 729.3) scale(1 1.055)" text-anchor="end" letter-spacing="0.5">0.2</text>
<text class="tl" transform="translate(208.8 459.0) scale(1 1.055)" text-anchor="end" letter-spacing="0.5">0.4</text>
<text class="tl" transform="translate(208.8 188.6) scale(1 1.055)" text-anchor="end" letter-spacing="0.5">0.6</text>
<text class="tl" transform="translate(241.1 1069.8) scale(1 1.055)" text-anchor="middle">1775</text>
<text class="tl" transform="translate(500.1 1069.8) scale(1 1.055)" text-anchor="middle">1750</text>
<text class="tl" transform="translate(760.0 1069.8) scale(1 1.055)" text-anchor="middle">1725</text>
<text class="tl" transform="translate(1019.9 1069.8) scale(1 1.055)" text-anchor="middle">1700</text>
<text class="tl" transform="translate(1279.8 1069.8) scale(1 1.055)" text-anchor="middle">1675</text>
<text class="tl" transform="translate(1539.7 1069.8) scale(1 1.055)" text-anchor="middle">1650</text>
<text class="ax" transform="translate(70 557.5) rotate(-90) scale(1 1.035)" text-anchor="middle">Absorbance</text>
<text class="ax" transform="translate(642 1167.8) scale(1 1.048)"><tspan letter-spacing="0.33">Wavenumber</tspan><tspan dx="-4"> (cm</tspan><tspan font-size="33px" dy="-28.5" dx="-1.4" letter-spacing="-2.4">-1</tspan><tspan dy="28.5" dx="4.9">)</tspan></text>
</svg>
</body></html>
